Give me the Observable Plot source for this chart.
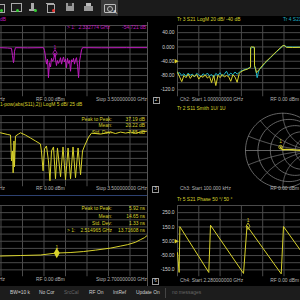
<!DOCTYPE html>
<html><head><meta charset="utf-8">
<script src="https://cdn.jsdelivr.net/npm/d3@7"></script>
<script src="https://cdn.jsdelivr.net/npm/@observablehq/plot@0.6"></script>
<style>
html,body{margin:0;padding:0;background:#000;}
#root{position:relative;width:300px;height:300px;overflow:hidden;background:#000;font-family:"Liberation Sans",Arial,sans-serif;}
.t{position:absolute;white-space:nowrap;line-height:1;}
.b{position:absolute;}
</style></head><body><div id="root"></div>
<script>
// ---------------- DATA ----------------
// Panel 1 (Tr1, magenta, LogM dB) – frequency in GHz
const p1Freq = [1.674,1.760,1.807,1.819,1.831,1.837,1.843,1.855,2.000,2.194,
  2.206,2.218,2.230,2.242,2.254,2.266,2.279,2.291,2.303,2.315,2.327,2.3328,2.339,2.351,2.363,2.375,2.388,2.400,2.412,2.424,
  2.436,2.448,2.460,2.472,2.484,2.497,2.509,2.521,2.533,2.545,2.557,2.569,2.581,2.593,2.606,2.618,2.630,2.642,2.654,2.666,
  2.900,3.200,3.500];
const p1Mag = [-47,-47.5,-48,-58,-68,-64,-52,-47,-47.3,-47,
  -51,-60,-70,-63,-89,-68,-74,-62,-66,-64,-57,-54.7,-63,-72,-65,-69,-66,-61,-70,-64,
  -60,-67,-63,-75,-62,-69,-65,-80,-64,-67,-62,-70,-64,-61,-73,-89,-66,-58,-50,-47,
  -47.2,-47,-47];
const p1Marker = {freq: 2.332774, val: -54.721};

// Panel 2 (1-|S11|^2-|S21|^2, LogM dB)
const p2Freq = [1.674,1.755,1.795,1.807,1.819,1.827,1.837,1.843,1.855,1.891,1.916,1.976,2.036,2.097,2.157,
  2.169,2.189,2.206,2.230,2.254,2.272,2.291,2.315,2.339,2.363,2.400,2.430,2.460,2.491,2.521,2.551,2.581,2.612,2.642,2.666,
  2.690,2.739,2.775,2.884,3.005,3.065,3.126,3.186,3.247,3.307,3.368,3.452];
const p2Val = [34.9,33.8,33.3,15.3,22.2,6.9,29.2,11.1,32.6,34.0,34.9,33.3,31.3,29.2,27.1,
  22.2,8.3,23.6,25.7,15.3,1.4,22.2,25.0,2.8,24.3,4.2,25.0,2.1,24.3,2.8,25.0,3.5,24.3,5.6,22.2,
  25.7,31.9,34.7,34.0,35.4,34.4,35.4,34.7,35.4,34.7,35.4,36.1];
const p2StatLabels = ["Peak to Peak:", "Mean:", "Std. Dev:"];
const p2StatValues = ["37.19 dB", "20.22 dB", "7.55 dB"];

// Panel 3 (group delay, ns)
const p3Freq = [2.405,2.444,2.483,2.514,2.541,2.567,2.591,2.620,2.639,2.653,2.669,2.678,2.686,2.692];
const p3Delay = [12.81,12.96,13.11,13.70,13.85,14.15,14.59,15.19,15.78,16.22,16.96,17.70,18.30,19.04];
const p3Marker = {freq: 2.514965, val: 13.71608};
const p3StatLabels = ["Peak to Peak:", "Mean:", "Std. Dev:"];
const p3StatValues = ["5.92 ns", "14.65 ns", "1.33 ns"];

// Tr3 / Tr4 (S21 LogM, dB) – noise floor part
const rtNoiseFreq = [1.00,1.05,1.10,1.15,1.20,1.25,1.30,1.35,1.40,1.45,1.50,1.55,1.60,1.65,1.70,
  1.75,1.80,1.85,1.90,1.95,2.00,2.05,2.10,2.15,2.20,2.25,2.30,2.35,2.40,2.45];
const tr3Noise = [-70,-84,-97,-80,-86,-76,-88,-79,-83,-77,-90,-81,-85,-78,-87,
  -82,-100,-80,-108,-79,-86,-77,-84,-80,-83,-96,-78,-84,-99,-74];
const tr4Noise = [-74,-72,-80,-75,-82,-73,-79,-76,-84,-74,-78,-83,-75,-80,-73,
  -81,-77,-85,-74,-79,-72,-82,-76,-68,-80,-73,-78,-70,-76,-71];
const tr3TailFreq = [2.479,2.56,2.643,2.70,2.714,2.716,2.74,2.77,2.79,2.806,2.808,2.831,2.854,2.88,2.925,3.05,3.183,3.32,3.465,3.50,3.53,3.56,3.70,3.887,4.20];
const tr3Tail = [-70,-65,-62,-58,-57,-2,1,-1,0,-1,-52,-60,-72,-68,-62,-44,-29,-13,3,4,2,-1,-1.5,-1,-1];
const tr4TailFreq = [2.479,2.56,2.643,2.70,2.714,2.716,2.76,2.806,2.808,2.831,2.87,2.90,2.925,3.05,3.183,3.32,3.465,3.50,3.56,3.887,4.20];
const tr4Tail = [-68,-64,-61,-57,-56,-4,-1,-3,-55,-62,-86,-70,-63,-46,-30,-14,2,5,0,-0.5,-0.5];
const tr3TickValues = [40, 0, -40, -80, -120];
const tr3TickLabels = ["40.00", "0.000", "-40.00", "-80.00", "-120.0"];
const tr3Ref = -40;

// Tr2 (S11 Smith) – reflection coefficient
const smithRe = [-0.06,-0.04,0.0,0.1,0.25,0.4,0.55,0.7];
const smithIm = [0.09,0.05,0.02,0.03,0.02,0.01,0.0,0.01];
const smithMarker = {re: -0.06, im: 0.09};
const smithR = [0, 0.2, 0.5, 1, 2, 5];
const smithX = [0.2, 0.5, 1, 2, 5];

// Tr5 (S21 Phase, degrees)
const phaseFreq = [2.2800,2.2832,2.2847,2.3417,2.3451,2.4102,2.4171,2.4845,2.4890,2.5423];
const phaseDeg = [-30,-168,152,-168,162,-175,157,-178,153,-112];
const phaseMarker = {freq: 2.419, val: 155};
const tr5TickValues = [250, 150, 50, -50, -150];
const tr5TickLabels = ["250.0", "150.0", "50.00", "-50.00", "-150.0"];
const tr5Ref = 50;

const statusItems = ["BW=10 k", "No Cor", "SrcCal", "RF On", "IntRef", "Update On", "no messages"];

// ---------------- STYLE ----------------
const FONT = "Liberation Sans, Arial, sans-serif";
const FS = 4.9;
const YEL = "#d8d22c", MAG = "#c21ac2", CYA = "#1fb2c4", GRID = "#4a4a4a", FOOT = "#b4b4b4";
const root = document.getElementById("root");

function rect(x, y, w, h, css) {
  const d = document.createElement("div"); d.className = "b";
  Object.assign(d.style, {left: x + "px", top: y + "px", width: w + "px", height: h + "px"}, css || {});
  root.appendChild(d); return d;
}
function txt(s, x, y, color, align, size) {
  size = size || FS;
  const d = document.createElement("div"); d.className = "t"; d.textContent = s;
  d.style.color = color; d.style.fontSize = size + "px"; d.style.top = (y - size / 2) + "px";
  if (align === "end") d.style.right = (300 - x) + "px";
  else if (align === "middle") { d.style.left = x + "px"; d.style.transform = "translateX(-50%)"; }
  else d.style.left = x + "px";
  root.appendChild(d); return d;
}
const zip = (xs, ys) => xs.map((x, i) => ({x, y: ys[i]}));
const divs = (lo, hi, n) => d3.range(n + 1).map(k => lo + k * (hi - lo) / n);

function panel(o) {
  const svg = Plot.plot({
    width: o.width, height: o.height,
    marginLeft: o.frame[0] - o.left, marginRight: o.left + o.width - o.frame[1],
    marginTop: o.frame[2] - o.top, marginBottom: o.top + o.height - o.frame[3],
    style: {background: "transparent", color: "#d0d0d0", fontFamily: FONT, fontSize: FS + "px"},
    x: {type: "linear", domain: o.xDomain, range: o.xRange.map(v => v - o.left), axis: null},
    y: {type: "linear", domain: o.yDomain, range: o.yRange.map(v => v - o.top), axis: null},
    marks: o.marks
  });
  Object.assign(svg.style, {position: "absolute", left: o.left + "px", top: o.top + "px"});
  root.appendChild(svg);
}
function gridMarks(xDomain, xStep, yDomain, yDivs) {
  return [
    Plot.ruleX(d3.range(xDomain[0], xDomain[1] + 1e-9, xStep), {stroke: GRID, strokeWidth: 1, clip: true}),
    Plot.ruleY(divs(yDomain[0], yDomain[1], yDivs), {stroke: GRID, strokeWidth: 1, clip: true})
  ];
}
function tickText(values, labels, x0) {
  return Plot.text(values.map((v, i) => ({v, s: labels[i]})),
    {x: () => x0, y: "v", text: "s", textAnchor: "end", dx: -3, fill: "#d4d4d4", fontSize: FS});
}

// ---------------- CHROME ----------------
rect(0, 0, 300, 16, {background: "#1b1b1b"});
rect(101, 0, 17, 16, {background: "#3a3a3a"});
// toolbar icons (decorative)
rect(-3, 4, 6, 7, {border: "1px solid #aaa"}); rect(0, 9, 3, 3, {background: "#3c3", borderRadius: "2px"});
rect(11, 3, 9, 7, {border: "1px solid #aaa"}); rect(16, 9, 3, 3, {background: "#3c3", borderRadius: "2px"});
rect(31, 3, 3, 6, {background: "#aaa"}); rect(29, 9, 7, 2, {background: "#aaa"}); rect(34, 9, 3, 3, {background: "#3c3", borderRadius: "2px"});
rect(47, 4, 6, 7, {border: "1px solid #aaa"}); rect(46, 3, 8, 1, {background: "#aaa"}); rect(52, 9, 3, 3, {background: "#e33", borderRadius: "2px"});
rect(66, 3, 8, 8, {background: "#999"}); rect(68, 3, 4, 3, {background: "#333"});
rect(84, 6, 9, 5, {background: "#999"}); rect(86, 3, 5, 3, {background: "#bbb"});
rect(104, 4, 10, 7, {border: "1px solid #bbb", borderRadius: "1px"}); rect(107, 6, 4, 4, {border: "1px solid #bbb", borderRadius: "3px"});
txt("\u2196", 113, 12, "#fff", "start", 6);

// separators
rect(147, 22, 1, 264, {background: "#555"});
rect(0, 195, 147, 1, {background: "#2d4170"});
// status bar
rect(0, 286, 300, 14, {background: "#1c1c1c"});
const statusX = [10, 39, 64, 89, 113, 136, 172];
statusItems.forEach((s, i) => txt(s, statusX[i], 293.3, (s === "SrcCal" || s === "no messages") ? "#666" : "#d0d0d0"));
rect(165, 288, 1, 10, {background: "#444"});

// ---------------- PANEL 1 ----------------
const xL = [0.9, 3.5], xLR = [-64, 151];
const p1Y = [-116, -16];
panel({left: 0, top: 22, width: 148, height: 78, frame: [0, 147, 25, 96.5],
  xDomain: xL, xRange: xLR, yDomain: p1Y, yRange: [96.5, 25],
  marks: [...gridMarks(xL, 0.26, p1Y, 10),
    Plot.line(zip(p1Freq, p1Mag), {x: "x", y: "y", stroke: MAG, strokeWidth: 1, clip: true}),
    Plot.dot([p1Marker], {x: "freq", y: "val", symbol: "diamond", r: 2.2, stroke: MAG, fill: "none", strokeWidth: 0.8}),
    Plot.text([p1Marker], {x: "freq", y: "val", text: () => "1", dy: -6, fill: MAG, fontSize: FS})
  ]});
txt("dB", 0, 20.6, MAG);
txt("> 1:", 67, 28.2, MAG); txt("2.332774 GHz", 110, 28.2, MAG, "end"); txt("-54.721 dB", 146, 28.2, MAG, "end");
txt("Hz", -1, 100.6, FOOT); txt("RF 0.00 dBm", 36, 100.6, FOOT); txt("Stop 3.500000000 GHz", 147, 100.6, FOOT, "end");

// ---------------- PANEL 2 ----------------
const p2Y = [-3, 47];
panel({left: 0, top: 112, width: 148, height: 78, frame: [0, 147, 115, 186.5],
  xDomain: xL, xRange: xLR, yDomain: p2Y, yRange: [186.5, 115],
  marks: [...gridMarks(xL, 0.26, p2Y, 10),
    Plot.line(zip(p2Freq, p2Val), {x: "x", y: "y", stroke: YEL, strokeWidth: 1, clip: true})
  ]});
txt("1-pow(abs(S11),2)) LogM 5 dB/ 25 dB", 0, 105.5, YEL);
[120, 126.7, 133.6].forEach((y, i) => { txt(p2StatLabels[i], 112, y, YEL, "end"); txt(p2StatValues[i], 145, y, YEL, "end"); });
txt("Hz", -1, 189.6, FOOT); txt("RF 0.00 dBm", 36, 189.6, FOOT); txt("Stop 3.500000000 GHz", 147, 189.6, FOOT, "end");

// ---------------- PANEL 3 ----------------
const x3 = [2.28, 2.70], p3Y = [6.5, 28];
panel({left: 0, top: 202, width: 148, height: 78, frame: [0, 147, 205, 276.5],
  xDomain: x3, xRange: xLR, yDomain: p3Y, yRange: [276.5, 205],
  marks: [...gridMarks(x3, 0.042, p3Y, 10),
    Plot.line(zip(p3Freq, p3Delay), {x: "x", y: "y", stroke: YEL, strokeWidth: 1, clip: true}),
    Plot.dot([p3Marker], {x: "freq", y: "val", symbol: "diamond", r: 2.2, fill: YEL, stroke: YEL}),
    Plot.text([p3Marker], {x: "freq", y: "val", text: () => "1", dy: -6, fill: YEL, fontSize: FS})
  ]});
[209.3, 217.2, 224.8].forEach((y, i) => { txt(p3StatLabels[i], 112, y, YEL, "end"); txt(p3StatValues[i], 145, y, YEL, "end"); });
txt("> 1:", 67, 231.8, YEL); txt("2.514965 GHz", 112, 231.8, YEL, "end"); txt("13.71608 ns", 145, 231.8, YEL, "end");
txt("Hz", -1, 280.5, FOOT); txt("RF 0.00 dBm", 36, 280.5, FOOT); txt("Stop 2.700000000 GHz", 147, 280.5, FOOT, "end");

// ---------------- RIGHT TOP (Tr3/Tr4) ----------------
const xRT = [1, 6], rtY = [-140, 60];
panel({left: 150, top: 22, width: 150, height: 78, frame: [177, 300, 25, 96.5],
  xDomain: xRT, xRange: [177, 390], yDomain: rtY, yRange: [96.5, 25],
  marks: [...gridMarks(xRT, 0.5, rtY, 10),
    Plot.line(zip(rtNoiseFreq.concat(tr4TailFreq), tr4Noise.concat(tr4Tail)), {x: "x", y: "y", stroke: CYA, strokeWidth: 1, clip: true}),
    Plot.line(zip(rtNoiseFreq.concat(tr3TailFreq), tr3Noise.concat(tr3Tail)), {x: "x", y: "y", stroke: YEL, strokeWidth: 1, clip: true}),
    tickText(tr3TickValues, tr3TickLabels, xRT[0]),
    Plot.dot([tr3Ref], {x: () => xRT[0], y: d => d, symbol: "triangle", rotate: 90, r: 1.6, fill: YEL, dx: -1.5})
  ]});
txt("Tr 3  S21 LogM 20 dB/ -40 dB", 177, 20.6, YEL);
txt("Tr 4  S21 LogM 20 dB/ -40 dB", 283, 20.6, CYA);
rect(152.5, 97, 7, 7, {border: "1px solid #999", boxSizing: "border-box"}); txt("2", 156, 100.6, "#ccc", "middle");
txt("Ch2: Start 1.000000000 GHz", 180, 100.6, FOOT); txt("RF 0.00 dBm", 299, 100.6, FOOT, "end");

// ---------------- RIGHT MIDDLE (Smith) ----------------
const smithGrid = [];
smithR.forEach(r => {
  const c = r / (1 + r), R = 1 / (1 + r);
  d3.range(0, 361, 4).forEach(a => smithGrid.push({re: c + R * Math.cos(a * Math.PI / 180), im: R * Math.sin(a * Math.PI / 180), g: "r" + r}));
});
smithX.forEach(xv => [xv, -xv].forEach(x => {
  d3.range(0, 1.0001, 0.01).map(t => t < 1 ? t / (1 - t) : 1e6).forEach(r => {
    const den = (r + 1) * (r + 1) + x * x;
    smithGrid.push({re: (r * r - 1 + x * x) / den, im: 2 * x / den, g: "x" + x});
  });
}));
panel({left: 150, top: 105, width: 150, height: 90, frame: [150, 300, 105, 195],
  xDomain: [-1, 1], xRange: [245, 319.6], yDomain: [-1, 1], yRange: [187.3, 112.7],
  marks: [
    Plot.line(smithGrid, {x: "re", y: "im", z: "g", stroke: "#7c7c7c", strokeWidth: 0.8, clip: true}),
    Plot.ruleY([0], {x1: -1, x2: 1, stroke: "#7c7c7c", strokeWidth: 0.8}),
    Plot.line(zip(smithRe, smithIm), {x: "x", y: "y", stroke: YEL, strokeWidth: 1.4, clip: true}),
    Plot.dot([smithMarker], {x: "re", y: "im", r: 1.8, stroke: YEL, fill: "none", strokeWidth: 0.8}),
    Plot.text([smithMarker], {x: "re", y: "im", text: () => "1", dy: -6, fill: YEL, fontSize: FS})
  ]});
txt("Tr 2  S11 Smith 1U/ 1U", 177, 109.5, YEL);
rect(152, 186, 7, 7, {border: "1px solid #999", boxSizing: "border-box"}); txt("3", 155.5, 189.6, "#ccc", "middle");
txt("Ch3: Start 100.000 kHz", 180, 189.6, FOOT); txt("RF 0.00 dBm", 299, 189.6, FOOT, "end");

// ---------------- RIGHT BOTTOM (Tr5 Phase) ----------------
const xRB = [2.28, 2.70], rbY = [-200, 300];
panel({left: 150, top: 202, width: 150, height: 78, frame: [177, 300, 205, 276.5],
  xDomain: xRB, xRange: [177, 390], yDomain: rbY, yRange: [276.5, 205],
  marks: [...gridMarks(xRB, 0.042, rbY, 10),
    Plot.line(zip(phaseFreq, phaseDeg), {x: "x", y: "y", stroke: YEL, strokeWidth: 1, clip: true}),
    Plot.dot([phaseMarker], {x: "freq", y: "val", symbol: "diamond", r: 2, stroke: YEL, fill: "none", strokeWidth: 0.8}),
    Plot.text([phaseMarker], {x: "freq", y: "val", text: () => "1", dy: -6, fill: YEL, fontSize: FS}),
    tickText(tr5TickValues, tr5TickLabels, xRB[0]),
    Plot.dot([tr5Ref], {x: () => xRB[0], y: d => d, symbol: "triangle", rotate: 90, r: 1.6, fill: YEL, dx: -1.5})
  ]});
txt("Tr 5  S21 Phase 50 \u00b0/ 50 \u00b0", 177, 200, YEL);
rect(152, 277.5, 7, 7, {border: "1px solid #999", boxSizing: "border-box"}); txt("6", 155.5, 281, "#ccc", "middle");
txt("Ch4: Start 2.280000000 GHz", 180, 281, FOOT); txt("RF 0.00 dBm", 299, 281, FOOT, "end");
</script></body></html>
